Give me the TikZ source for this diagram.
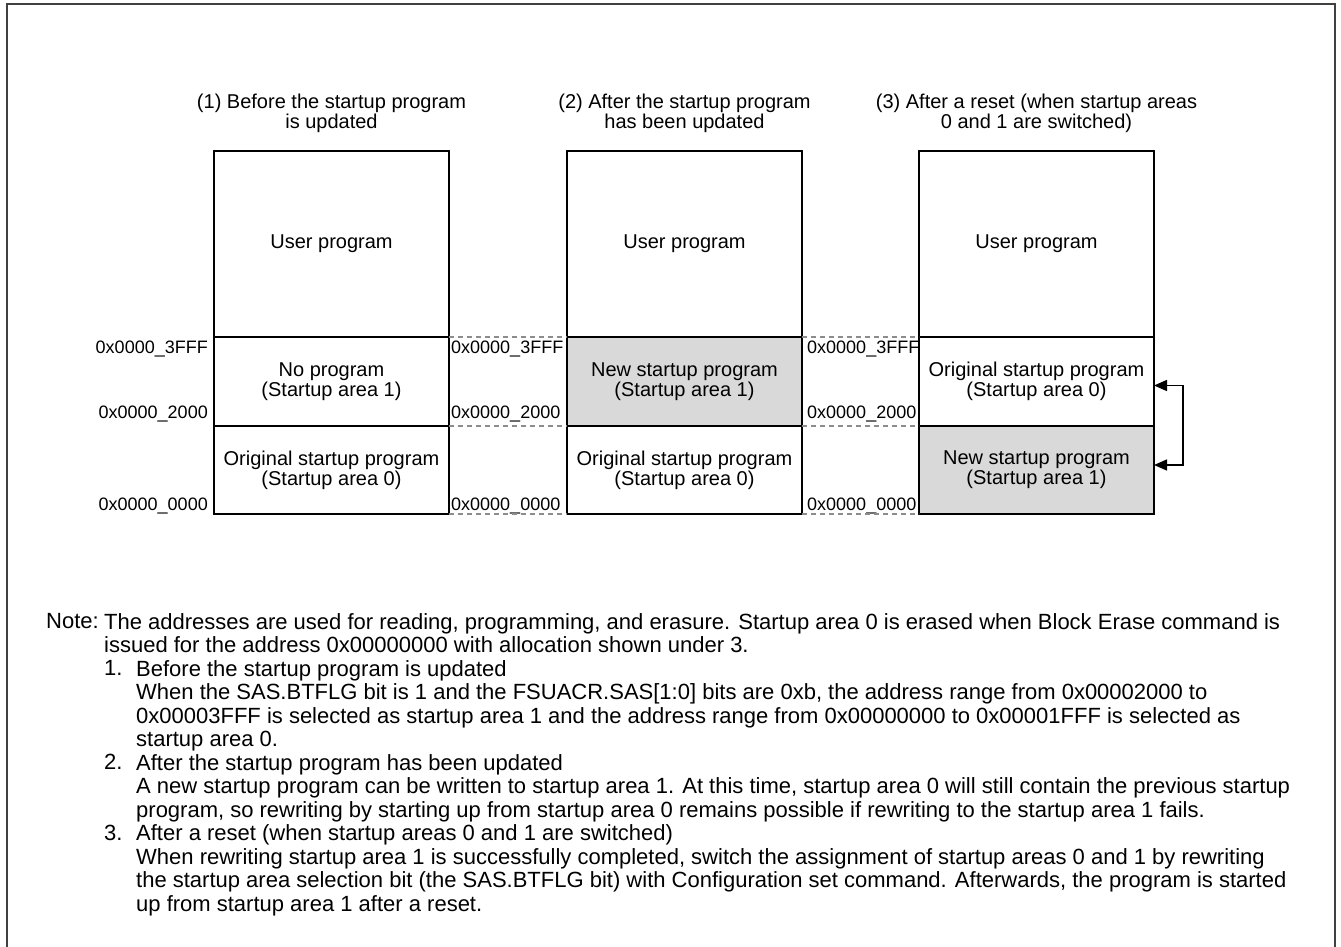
\documentclass[tikz,border=0pt]{standalone}
\usepackage{fontspec}
\setmainfont{Liberation Sans}
\usetikzlibrary{positioning,arrows.meta}

\begin{document}
\begin{tikzpicture}[x=1pt, y=-1pt, >={Triangle[length=13pt,width=11pt]},
        region/.style={rectangle, draw, line width=1.8pt, minimum width=235pt, outer sep=0pt,
                       inner sep=0pt, align=center, font=\fontsize{20}{20}\selectfont},
        newprog/.style={region, fill=black!15},
        title/.style={inner sep=0pt, align=center, font=\fontsize{20}{20}\selectfont},
        addr/.style={inner sep=0pt, font=\fontsize{18}{18}\selectfont},
        bound/.style={black!45, line width=1.2pt, dash pattern=on 5pt off 4pt},
        notetext/.style={inner sep=0pt, align=left, font=\fontsize{22}{23.5}\selectfont}]
        \useasboundingbox (0,0) rectangle (1341,947);
        \draw[black!75, line width=1.5pt] (7,960) -- (7,4) -- (1335,4) -- (1335,960);

        % (1) before the update
        \node[region, minimum height=186pt, anchor=north west] (user1) at (214,151) {User program};
        \node[region, minimum height=89pt, below=0pt of user1] (areaA1) {No program\\(Startup area 1)};
        \node[region, minimum height=88pt, below=0pt of areaA1] (areaB1) {Original startup program\\(Startup area 0)};

        % (2) after the update
        \node[region, minimum height=186pt, right=118pt of user1] (user2) {User program};
        \node[newprog, minimum height=89pt, below=0pt of user2] (areaA2) {New startup program\\(Startup area 1)};
        \node[region, minimum height=88pt, below=0pt of areaA2] (areaB2) {Original startup program\\(Startup area 0)};

        % (3) after a reset
        \node[region, minimum height=186pt, right=117pt of user2] (user3) {User program};
        \node[region, minimum height=89pt, below=0pt of user3] (areaA3) {Original startup program\\(Startup area 0)};
        \node[newprog, minimum height=88pt, below=0pt of areaA3] (areaB3) {New startup program\\(Startup area 1)};

        \node[title, above=18pt of user1] (title1) {(1) Before the startup program\\is updated};
        \node[title, above=18pt of user2] (title2) {(2) After the startup program\\has been updated};
        \node[title, above=18pt of user3] (title3) {(3) After a reset (when startup areas\\0 and 1 are switched)};

        % address marks
        \foreach \lbl/\yy in {3FFF/353, 2000/418, 0000/510} {
            \node[addr, anchor=base east] (left\lbl) at (208,\yy) {0x0000\_\lbl};
            \node[addr, anchor=base west] (gapA\lbl) at (451,\yy) {0x0000\_\lbl};
            \node[addr, anchor=base west] (gapB\lbl) at (807,\yy) {0x0000\_\lbl};
        }

        \draw[bound] (areaA1.north east) -- (areaA2.north west);
        \draw[bound] (areaB1.north east) -- (areaB2.north west);
        \draw[bound] (areaB1.south east) -- (areaB2.south west);
        \draw[bound] (areaA2.north east) -- (areaA3.north west);
        \draw[bound] (areaB2.north east) -- (areaB3.north west);
        \draw[bound] (areaB2.south east) -- (areaB3.south west);

        \draw[<->, line width=1.5pt] ([yshift=-4pt]areaA3.east) -- ++(29,0) |- ([yshift=5pt]areaB3.east);

        % note
        \node[notetext, anchor=north west] (notelbl) at (46,613) {Note:};
        \node[notetext, anchor=north west] (notemain) at (104,613)
            {The addresses are used for reading, programming, and erasure. Startup area 0 is erased when Block Erase command is\\
             issued for the address 0x00000000 with allocation shown under 3.};
        \node[notetext, anchor=north west] (num1) at (104,660) {1.};
        \node[notetext, anchor=north west] (item1) at (136,660)
            {Before the startup program is updated\\
             When the SAS.BTFLG bit is 1 and the FSUACR.SAS[1:0] bits are 0xb, the address range from 0x00002000 to\\
             0x00003FFF is selected as startup area 1 and the address range from 0x00000000 to 0x00001FFF is selected as\\
             startup area 0.};
        \node[notetext, anchor=north west] (num2) at (104,754) {2.};
        \node[notetext, anchor=north west] (item2) at (136,754)
            {After the startup program has been updated\\
             A new startup program can be written to startup area 1. At this time, startup area 0 will still contain the previous startup\\
             program, so rewriting by starting up from startup area 0 remains possible if rewriting to the startup area 1 fails.};
        \node[notetext, anchor=north west] (num3) at (104,824.5) {3.};
        \node[notetext, anchor=north west] (item3) at (136,824.5)
            {After a reset (when startup areas 0 and 1 are switched)\\
             When rewriting startup area 1 is successfully completed, switch the assignment of startup areas 0 and 1 by rewriting\\
             the startup area selection bit (the SAS.BTFLG bit) with Configuration set command. Afterwards, the program is started\\
             up from startup area 1 after a reset.};
    \end{tikzpicture}
\end{document}
